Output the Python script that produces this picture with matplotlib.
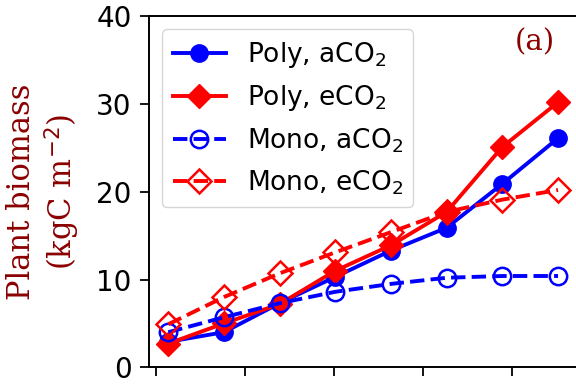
import numpy as np
import matplotlib
matplotlib.use('Agg')
import matplotlib.pyplot as plt

# plant biomass (kgC m-2) for each sampling step
steps = np.arange(8)
poly_aco2 = [2.9, 4.0, 7.3, 10.3, 13.3, 15.9, 20.9, 26.1]
poly_eco2 = [2.7, 5.0, 7.2, 11.0, 13.9, 17.7, 25.1, 30.2]
mono_aco2 = [4.0, 5.7, 7.3, 8.6, 9.5, 10.2, 10.4, 10.4]
mono_eco2 = [4.9, 8.0, 10.7, 13.1, 15.4, 17.7, 19.1, 20.2]

tick_pos = [-0.226, 1.374, 2.974, 4.574, 6.174]
y_ticks = [0, 10, 20, 30, 40]

fig = plt.figure(figsize=(5.76, 3.85), dpi=100)
ax = fig.add_axes([0.2587, 0.046, 0.748, 0.912])

lw, ms = 2.8, 12.5
ax.plot(steps, poly_aco2, '-o', color='blue', lw=lw, ms=ms, label='Poly, aCO$_2$')
ax.plot(steps, poly_eco2, '-D', color='red', lw=lw, ms=ms, label='Poly, eCO$_2$')
ax.plot(steps, mono_aco2, '--o', color='blue', lw=lw, ms=ms, mfc='none', mew=1.8,
        label='Mono, aCO$_2$')
ax.plot(steps, mono_eco2, '--D', color='red', lw=lw, ms=ms, mfc='none', mew=1.8,
        label='Mono, eCO$_2$')

ax.set_xlim(-0.346, 7.392)
ax.set_ylim(0, 40)
ax.set_xticks(tick_pos)
ax.set_xticklabels([])
ax.set_yticks(y_ticks)
ax.tick_params(labelsize=20, length=6.5, width=1.3, pad=6)
for sp in ax.spines.values():
    sp.set_linewidth(1.4)

ax.set_ylabel('Plant biomass\n(kgC m$^{-2}$)', family='DejaVu Serif', fontsize=22,
              color='#8B0000', labelpad=10)
ax.text(0.896, 0.965, '(a)', transform=ax.transAxes, family='DejaVu Serif', fontsize=21,
        color='#8B0000', ha='center', va='top')

ax.legend(loc='upper left', fontsize=19, borderaxespad=0.5)

fig.savefig('out.png', dpi=100)
